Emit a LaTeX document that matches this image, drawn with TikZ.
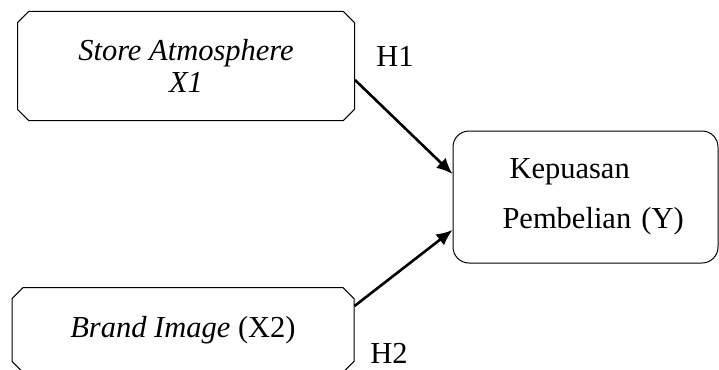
\documentclass[tikz,border=0pt]{standalone}
\usepackage{fontspec}
\setmainfont{Liberation Serif}
\usetikzlibrary{shapes.misc,arrows.meta}
\tikzset{varbox/.style={
        draw,line width=1pt,
        chamfered rectangle,
        chamfered rectangle xsep=8pt,
        inner sep=0pt
    },
    ybox/.style={
        draw,line width=1pt,
        rounded corners=16pt,
        inner sep=0pt
    },
    hlink/.style={
        line width=2.6pt,
        -{Latex[length=16pt,width=14pt]}
    }
}

\begin{document}
\begin{tikzpicture}[x=1pt,y=-1pt,
        every node/.append style={font=\fontsize{30.5}{32}\selectfont}]
        \useasboundingbox (0,0) rectangle (719,369);
        \node[varbox,minimum width=337pt,minimum height=109pt,align=center] (sa) at (186,66)
            {\itshape Store Atmosphere\\\itshape X1};
        \node[varbox,minimum width=342pt,minimum height=85pt] (bi) at (183,330)
            {\textit{Brand Image} (X2)};
        \node[ybox,minimum width=265pt,minimum height=132pt,text width=200pt,align=left] (kp) at (585.5,197)
            {\hspace*{24pt}Kepuasan\\[18pt]\hspace*{17pt}Pembelian (Y)};
        \draw[hlink] ([yshift=-14pt]sa.east) -- ([yshift=23pt]kp.west);
        \draw[hlink] ([yshift=24pt]bi.east) -- ([yshift=-33pt]kp.west);
        \node (h1) at (395,56) {H1};
        \node (h2) at (389,353) {H2};
    \end{tikzpicture}
\end{document}
